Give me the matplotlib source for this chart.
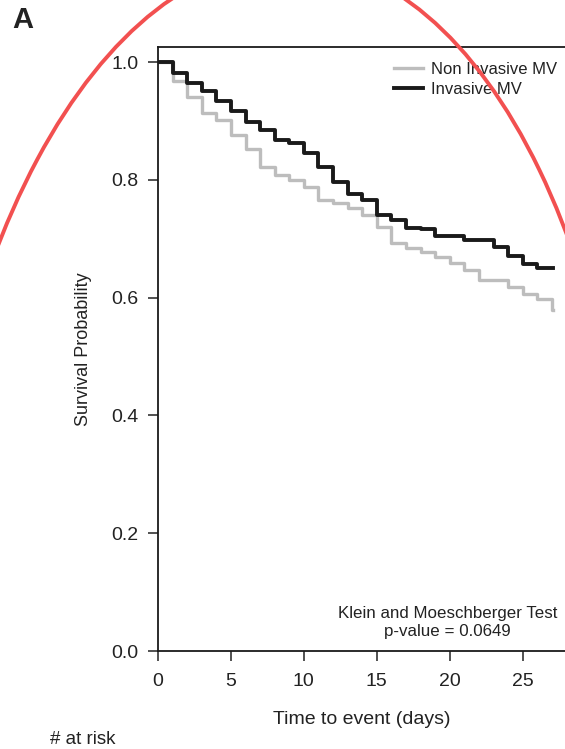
import matplotlib.pyplot as plt
from matplotlib.patches import Ellipse

plt.rcParams['font.family'] = ['Liberation Sans', 'DejaVu Sans']

# Kaplan-Meier estimates (value after each daily step)
days = list(range(0, 28))
invasive = [1.0, 0.982, 0.964, 0.951, 0.934, 0.917, 0.899, 0.885, 0.867, 0.862,
            0.845, 0.822, 0.797, 0.776, 0.766, 0.740, 0.732, 0.719, 0.716, 0.705,
            0.705, 0.698, 0.698, 0.686, 0.671, 0.657, 0.651, 0.651]
non_invasive = [1.0, 0.967, 0.941, 0.913, 0.901, 0.876, 0.853, 0.822, 0.808, 0.800,
                0.788, 0.766, 0.760, 0.752, 0.740, 0.720, 0.693, 0.685, 0.678, 0.669,
                0.658, 0.647, 0.630, 0.630, 0.618, 0.607, 0.597, 0.579]
end_day = 27.1

x_ticks = [0, 5, 10, 15, 20, 25]
y_ticks = [0.0, 0.2, 0.4, 0.6, 0.8, 1.0]

text_col = '#222222'

fig = plt.figure(figsize=(5.65, 7.49), dpi=100)
ax = fig.add_axes([0.2796, 0.1308, 0.7204, 0.8064])

ax.step(days + [end_day], non_invasive + [non_invasive[-1]], where='post',
        color='#bdbdbd', lw=2.4, label='Non Invasive MV')
ax.step(days + [end_day], invasive + [invasive[-1]], where='post',
        color='#1a1a1a', lw=2.8, label='Invasive MV')

ax.set_xlim(0, 27.9)
ax.set_ylim(0, 1.0255)
ax.set_xticks(x_ticks)
ax.set_yticks(y_ticks)
ax.set_yticklabels([f'{v:.1f}' for v in y_ticks])
ax.tick_params(direction='out', length=7.5, width=1.1, labelsize=14,
               colors=text_col)
ax.tick_params(axis='y', pad=6.5)
ax.tick_params(axis='x', pad=8)
for s in ['left', 'bottom', 'top']:
    ax.spines[s].set_linewidth(1.3)
    ax.spines[s].set_color('#1a1a1a')
ax.spines['right'].set_visible(False)

ax.set_xlabel('Time to event (days)', fontsize=14, color=text_col, labelpad=15.5)
ax.set_ylabel('Survival Probability', fontsize=13, color=text_col, labelpad=14)

ax.legend(loc='upper left', bbox_to_anchor=(0.543, 1.0), frameon=False,
          fontsize=12, handlelength=1.75, handletextpad=0.45, labelspacing=0.3,
          labelcolor=text_col)

ax.text(19.86, 0.048, 'Klein and Moeschberger Test\np-value = 0.0649',
        ha='center', va='center', fontsize=12.2, color=text_col, linespacing=1.25)

fig.text(12 / 565, 1 - 20 / 749, 'A', fontsize=21, fontweight='bold',
         va='center', ha='left', color=text_col)
fig.text(50 / 565, 1 - 740 / 749, '# at risk', fontsize=13.5,
         va='center', ha='left', color=text_col)

# red hand-drawn ellipse overlay (only its top arc falls inside the figure)
ell = Ellipse((2.78, 0.91), 7.1, 13.96, angle=-1.2,
              transform=fig.dpi_scale_trans, fill=False, edgecolor='#f25050',
              lw=2.8, clip_on=False)
fig.add_artist(ell)

fig.savefig('out.png', dpi=100)
